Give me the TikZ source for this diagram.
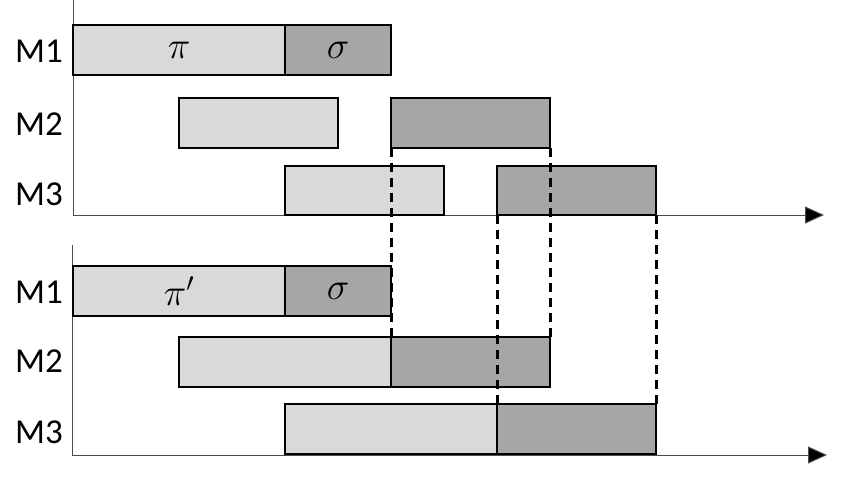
\RequirePackage{fix-cm}
\documentclass[tikz,border=0pt]{standalone}
\usepackage{fontspec}
\setmainfont{Carlito}
\usetikzlibrary{arrows.meta}
\definecolor{lightbar}{HTML}{D9D9D9}
\definecolor{darkbar}{HTML}{A6A6A6}
\begin{document}
\begin{tikzpicture}[x=1pt,y=-1pt,
  bar/.style={draw=black,line width=1.1pt,inner sep=0pt,outer sep=0pt,anchor=north west,minimum height=50pt,font=\fontsize{38}{44}\selectfont},
  lbar/.style={bar,fill=lightbar},
  dbar/.style={bar,fill=darkbar},
  axis/.style={draw=black!70,line width=1pt},
  axarrow/.style={axis,-{Triangle[length=19pt,width=17pt,fill=black]}},
  mlabel/.style={font=\fontsize{35}{40}\selectfont,anchor=center},
  guide/.style={draw=black,line width=3pt,dash pattern=on 9pt off 6pt}]
\useasboundingbox (0,0) rectangle (842,480);
% top chart axes
\coordinate (ta0) at (73,0);
\coordinate (tao) at (73,215);
\coordinate (tax) at (824,215);
\draw[axis] (ta0) -- (tao);
\draw[axarrow] (tao) -- (tax);
% bottom chart axes
\coordinate (ba0) at (72,245);
\coordinate (bao) at (72,455);
\coordinate (bax) at (827,455);
\draw[axis] (ba0) -- (bao);
\draw[axarrow] (bao) -- (bax);
% labels
\node[mlabel] (lt1) at (39,51) {M1};
\node[mlabel] (lt2) at (39,124) {M2};
\node[mlabel] (lt3) at (39,194) {M3};
\node[mlabel] (lb1) at (39,292) {M1};
\node[mlabel] (lb2) at (39,361) {M2};
\node[mlabel] (lb3) at (39,432) {M3};
% top bars
\node[lbar,minimum width=212pt] (t1a) at (73,25) {$\pi$};
\node[dbar,minimum width=106pt] (t1b) at (285,25) {$\sigma$};
\node[lbar,minimum width=159pt] (t2a) at (179,98) {};
\node[dbar,minimum width=159pt] (t2b) at (391,98) {};
\node[lbar,minimum width=159pt,minimum height=49pt] (t3a) at (285,166) {};
\node[dbar,minimum width=159pt,minimum height=49pt] (t3b) at (497,166) {};
% bottom bars
\node[lbar,minimum width=212pt] (b1a) at (73,266) {$\pi'$};
\node[dbar,minimum width=106pt] (b1b) at (285,266) {$\sigma$};
\node[lbar,minimum width=212pt] (b2a) at (179,337) {};
\node[dbar,minimum width=159pt] (b2b) at (391,337) {};
\node[lbar,minimum width=212pt] (b3a) at (285,404) {};
\node[dbar,minimum width=159pt] (b3b) at (497,404) {};
% dashed guides
\draw[guide] (t2b.south west) -- (b2b.north west);
\draw[guide] (t2b.south east) -- (b2b.north east);
\draw[guide] (t3b.south west) -- (b3b.north west);
\draw[guide] (t3b.south east) -- (b3b.north east);
\end{tikzpicture}
\end{document}
